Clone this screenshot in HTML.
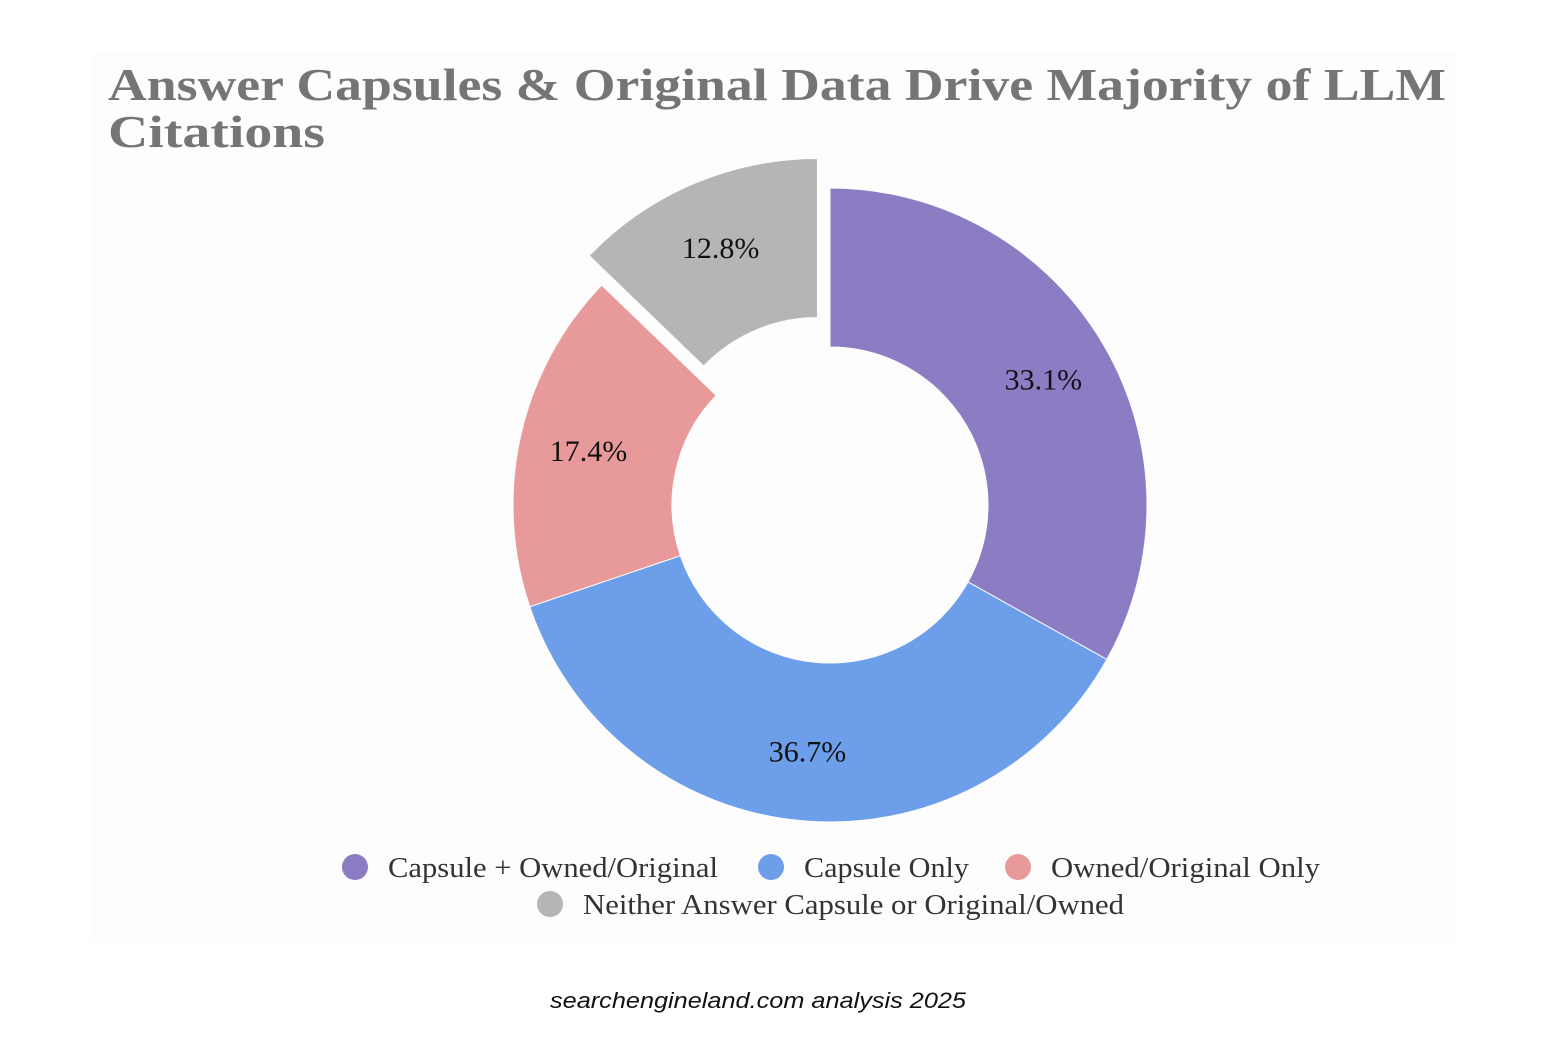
<!DOCTYPE html>
<html><head><meta charset="utf-8"><style>
html,body{margin:0;padding:0;background:#fff;width:1541px;height:1061px;overflow:hidden}
</style></head><body>
<svg id="chart" width="1541" height="1061" xmlns="http://www.w3.org/2000/svg">
<rect x="93" y="53" width="1364" height="890" fill="#fdfdfd"/>
<text x="108" y="100" font-family="Liberation Serif, serif" font-weight="bold" font-size="46" fill="#757575" textLength="1338" lengthAdjust="spacingAndGlyphs">Answer Capsules &amp; Original Data Drive Majority of LLM</text>
<text x="108" y="147" font-family="Liberation Serif, serif" font-weight="bold" font-size="46" fill="#757575" textLength="217" lengthAdjust="spacingAndGlyphs">Citations</text>
<g id="slices"></g>
<g id="legend"></g>
<text x="758" y="1008" text-anchor="middle" font-family="Liberation Sans, sans-serif" font-style="italic" font-size="22" fill="#111" textLength="416" lengthAdjust="spacingAndGlyphs">searchengineland.com analysis 2025</text>
</svg>
<script>
const categories = ["Capsule + Owned/Original","Capsule Only","Owned/Original Only","Neither Answer Capsule or Original/Owned"];
const values = [33.1, 36.7, 17.4, 12.8];
const labels = ["33.1%","36.7%","17.4%","12.8%"];
const colors = ["#8c7cc3","#6c9eea","#e79a99","#b5b5b5"];
const explode = [0,0,0,1];

const NS="http://www.w3.org/2000/svg";
const cx=830, cy=505, R=317, r=158, off=32;
const total=values.reduce((a,b)=>a+b,0);
const g=document.getElementById('slices');
function pt(a,rad,dx,dy){return [cx+dx+rad*Math.sin(a), cy+dy-rad*Math.cos(a)];}
let acc=0;
values.forEach((v,i)=>{
  const a0=acc/total*2*Math.PI, a1=(acc+v)/total*2*Math.PI; acc+=v;
  const am=(a0+a1)/2;
  const dx=explode[i]?off*Math.sin(am):0, dy=explode[i]?-off*Math.cos(am):0;
  const large=(a1-a0)>Math.PI?1:0;
  const p1=pt(a0,R,dx,dy),p2=pt(a1,R,dx,dy),p3=pt(a1,r,dx,dy),p4=pt(a0,r,dx,dy);
  const p=document.createElementNS(NS,'path');
  p.setAttribute('d',`M${p1[0]},${p1[1]}A${R},${R} 0 ${large} 1 ${p2[0]},${p2[1]}L${p3[0]},${p3[1]}A${r},${r} 0 ${large} 0 ${p4[0]},${p4[1]}Z`);
  p.setAttribute('fill',colors[i]);
  p.setAttribute('stroke','#fdfdfd');p.setAttribute('stroke-width','1');
  
  
  g.appendChild(p);
  const lp=pt(am,(R+r)/2+10,dx,dy);
  const t=document.createElementNS(NS,'text');
  t.setAttribute('x',lp[0]);t.setAttribute('y',lp[1]+10);
  t.setAttribute('text-anchor','middle');
  t.setAttribute('font-family','Liberation Serif, serif');
  t.setAttribute('font-size','30');t.setAttribute('fill','#111');
  t.textContent=labels[i];
  
  
  g.appendChild(t);
});
const lg=document.getElementById('legend');
const lpos=[[355,867,330],[771,867,165],[1018,867,269],[550,904,541]];
categories.forEach((c,i)=>{
  const [x,y,w]=lpos[i];
  const ci=document.createElementNS(NS,'circle');
  ci.setAttribute('cx',x);ci.setAttribute('cy',y);ci.setAttribute('r',13);ci.setAttribute('fill',colors[i]);
  
  
  lg.appendChild(ci);
  const t=document.createElementNS(NS,'text');
  t.setAttribute('x',x+33);t.setAttribute('y',y+10);
  t.setAttribute('font-family','Liberation Serif, serif');t.setAttribute('font-size','28');
  t.setAttribute('fill','#333');t.setAttribute('textLength',w);t.setAttribute('lengthAdjust','spacingAndGlyphs');
  t.textContent=c;
  
  
  lg.appendChild(t);
});
</script>
</body></html>
